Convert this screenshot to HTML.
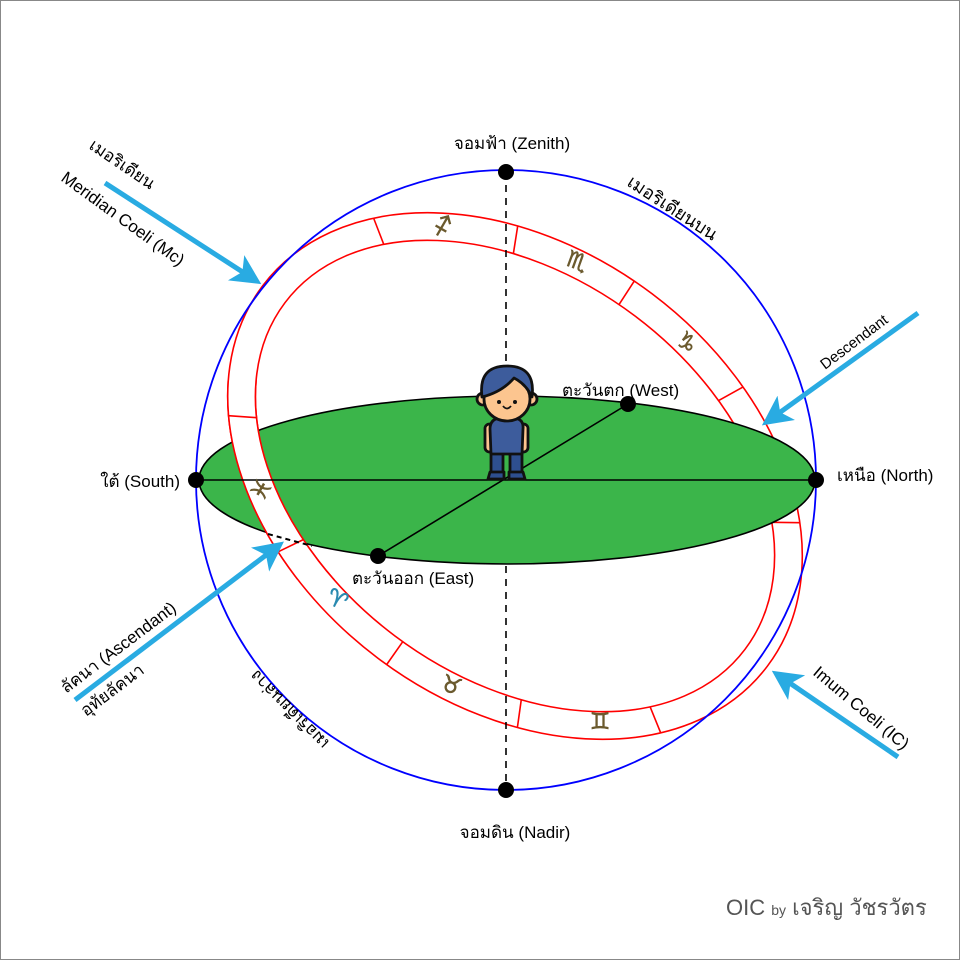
<!DOCTYPE html>
<html><head><meta charset="utf-8"><style>
html,body{margin:0;padding:0;background:#fff}
svg{display:block}
text{font-family:"Liberation Sans","Noto Sans CJK SC","DejaVu Sans",sans-serif}
.z{font-family:"DejaVu Sans",sans-serif;font-size:23px;fill:#6b5a2e;stroke:#6b5a2e;stroke-width:0.6;text-anchor:middle;dominant-baseline:central}
</style></head><body>
<svg width="960" height="960" viewBox="0 0 960 960" xmlns="http://www.w3.org/2000/svg">
<defs>
<clipPath id="lc"><rect x="0" y="380" width="335" height="200"/></clipPath>
<marker id="ah" markerWidth="6" markerHeight="6" refX="4.5" refY="3" orient="auto" markerUnits="strokeWidth">
<path d="M0,0 L6,3 L0,6 L1.5,3 z" fill="#29abe2"/></marker>
<g id="band">
<path d="M-316,0 A316,228 0 1,0 316,0 A316,228 0 1,0 -316,0 Z M-288,0 A288,200 0 1,1 288,0 A288,200 0 1,1 -288,0 Z" fill="#fff" fill-rule="evenodd" stroke="#f00" stroke-width="1.6"/>
</g>
</defs>
<rect x="0.5" y="0.5" width="959" height="959" fill="#fff" stroke="#888"/>

<g transform="translate(515,476) rotate(37)">
<use href="#band"/>
<g stroke="#f00" stroke-width="1.6">
<line x1="-268" y1="-120.8" x2="-244.2" y2="-106"/>
<line x1="-148.3" y1="-201.3" x2="-135.1" y2="-176.6"/>
<line x1="-22.1" y1="-227.5" x2="-20.1" y2="-199.5"/>
<line x1="128.6" y1="-208.4" x2="117.2" y2="-182.8"/>
<line x1="255.6" y1="-134.1" x2="233" y2="-117.6"/>
<line x1="270.8" y1="117.4" x2="246.8" y2="103"/>
<line x1="153.3" y1="199.5" x2="139.7" y2="175"/>
<line x1="11" y1="227.9" x2="10.1" y2="199.9"/>
<line x1="-143.5" y1="203.1" x2="-130.8" y2="178.2"/>
<line x1="-265.1" y1="124.3" x2="-241.6" y2="109"/>
</g>
</g>

<circle cx="506" cy="480" r="310" fill="none" stroke="#00f" stroke-width="1.8"/>

<ellipse cx="507" cy="480" rx="308" ry="84" fill="#3bb54a" stroke="#000" stroke-width="1.6"/>

<g clip-path="url(#lc)">
<g transform="translate(515,476) rotate(37)">
<use href="#band"/>
<g stroke="#f00" stroke-width="1.6">
<line x1="-143.5" y1="203.1" x2="-130.8" y2="178.2"/>
<line x1="-265.1" y1="124.3" x2="-241.6" y2="109"/>
</g>
</g>
</g>
<line x1="268" y1="534" x2="312" y2="546" stroke="#000" stroke-width="2" stroke-dasharray="5,4"/>

<line x1="196" y1="480" x2="816" y2="480" stroke="#000" stroke-width="1.6"/>
<line x1="378" y1="556" x2="628" y2="404" stroke="#000" stroke-width="1.6"/>
<line x1="506" y1="172" x2="506" y2="368" stroke="#000" stroke-width="1.6" stroke-dasharray="7,6"/>
<line x1="506" y1="566" x2="506" y2="790" stroke="#000" stroke-width="1.6" stroke-dasharray="7,6"/>

<g fill="#000">
<circle cx="506" cy="172" r="8"/><circle cx="506" cy="790" r="8"/>
<circle cx="196" cy="480" r="8"/><circle cx="816" cy="480" r="8"/>
<circle cx="378" cy="556" r="8"/><circle cx="628" cy="404" r="8"/>
</g>

<g stroke="#111" stroke-width="2.8" stroke-linejoin="round">
<path d="M491,474 L491,448 L503,448 L503,474 Z" fill="#2e4f8f"/>
<path d="M510,474 L510,448 L522,448 L522,474 Z" fill="#2e4f8f"/>
<path d="M490,472 h14 v7 h-16 z" fill="#2e4f8f"/>
<path d="M509,472 h14 l2,7 h-16 z" fill="#2e4f8f"/>
<rect x="485" y="424" width="9" height="28" rx="4.5" fill="#fcc58f"/>
<rect x="519" y="424" width="9" height="28" rx="4.5" fill="#fcc58f"/>
<path d="M491,454 L490,429 Q490,419 500,418 L514,418 Q524,419 523,429 L522,454 Z" fill="#3d5c9c"/>
<circle cx="483" cy="399" r="6" fill="#fcc58f"/><circle cx="531" cy="399" r="6" fill="#fcc58f"/>
<ellipse cx="507" cy="399" rx="23" ry="22" fill="#fcc58f"/>
<path d="M482,397 Q478,366 507,366 Q536,366 532,397 Q526,384 514,378 Q502,392 482,397 Z" fill="#3d5c9c"/>
</g>
<circle cx="499" cy="402" r="2" fill="#111"/><circle cx="515" cy="402" r="2" fill="#111"/>
<path d="M503,406 Q507,411 511,406" stroke="#111" stroke-width="1.8" fill="none"/>

<g stroke="#29abe2" stroke-width="5" fill="none" marker-end="url(#ah)">
<line x1="105" y1="183" x2="255" y2="280"/>
<line x1="918" y1="313" x2="768" y2="421"/>
<line x1="75" y1="700" x2="278" y2="546"/>
<line x1="898" y1="757" x2="778" y2="675"/>
</g>

<text class="z" x="443" y="227" transform="rotate(-15 443 227)">♐</text>
<text class="z" x="577" y="262" transform="rotate(20 577 262)">♏</text>
<text class="z" x="686" y="343" transform="rotate(45 686 343)">♑</text>
<text class="z" x="262" y="490" transform="rotate(-60 262 490)">♓</text>
<text class="z" x="337" y="600" style="fill:#2a8ab0;stroke:#2a8ab0" transform="rotate(25 337 600)">♈</text>
<text class="z" x="451" y="686" transform="rotate(20 451 686)">♉</text>
<text class="z" x="600" y="722">♊</text>

<g font-size="17" fill="#000">
<text x="512" y="149" text-anchor="middle">จอมฟ้า (Zenith)</text>
<text x="515" y="838" text-anchor="middle">จอมดิน (Nadir)</text>
<text x="180" y="487" text-anchor="end">ใต้ (South)</text>
<text x="837" y="481">เหนือ (North)</text>
<text x="562" y="396">ตะวันตก (West)</text>
<text x="352" y="584">ตะวันออก (East)</text>
</g>
<g font-size="17" fill="#000">
<text transform="translate(88,148) rotate(34)">เมอริเดียน</text>
<text transform="translate(60,180) rotate(36)">Meridian Coeli  (Mc)</text>
<text transform="translate(626,185) rotate(33)" font-size="18">เมอริเดียนบน</text>
<text transform="translate(825,370) rotate(-37)" font-size="15">Descendant</text>
<text transform="translate(66,694) rotate(-37)">ลัคนา (Ascendant)</text>
<text transform="translate(86,717) rotate(-37)">อุทัยลัคนา</text>
<text transform="translate(330,742) rotate(225)">เมอริเดียนล่าง</text>
<text transform="translate(812,674) rotate(40)">Imum Coeli (IC)</text>
</g>
<text x="726" y="915" font-size="22" fill="#555">OIC <tspan font-size="14">by</tspan> เจริญ วัชรวัตร</text>
</svg>
</body></html>
